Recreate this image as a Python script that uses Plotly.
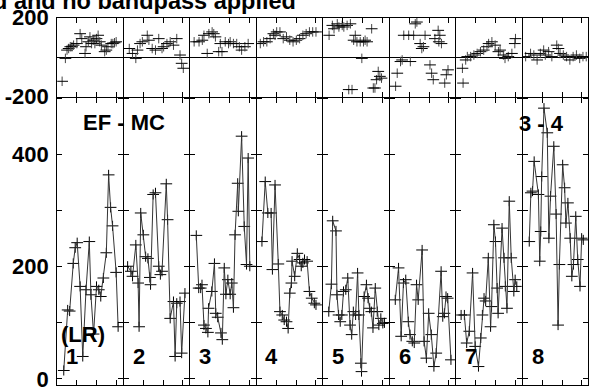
import plotly.graph_objects as go

# ---------------- data (time = fraction of each panel's time span) ----------------
channels = ["1", "2", "3", "4", "5", "6", "7", "8"]

amp_t_1 = [0.10, 0.16, 0.19, 0.245, 0.275, 0.305, 0.35, 0.39, 0.44, 0.49, 0.515, 0.555, 0.60, 0.635, 0.665, 0.705, 0.75, 0.785, 0.815, 0.845, 0.90, 0.93]
amp_1 = [15, 123, 121, 206, 234, 243, 165, 40, 159, 245, 150, 80, 165, 159, 147, 180, 225, 364, 306, 273, 190, 93]

amp_t_2 = [0.06, 0.11, 0.135, 0.185, 0.22, 0.235, 0.26, 0.30, 0.335, 0.37, 0.40, 0.41, 0.45, 0.485, 0.535, 0.56, 0.585, 0.65, 0.67, 0.71, 0.76, 0.785, 0.81, 0.86, 0.885, 0.935]
amp_2 = [201, 192, 183, 239, 171, 93, 296, 257, 218, 215, 181, 168, 329, 332, 201, 186, 192, 348, 284, 108, 138, 40, 135, 138, 46, 153]

amp_t_3 = [0.093, 0.13, 0.16, 0.18, 0.21, 0.24, 0.27, 0.28, 0.33, 0.37, 0.39, 0.42, 0.47, 0.49, 0.52, 0.545, 0.575, 0.61, 0.635, 0.66, 0.685, 0.725, 0.735, 0.785, 0.825, 0.86, 0.885, 0.91]
amp_3 = [256, 162, 162, 168, 96, 90, 83, 126, 156, 206, 117, 110, 82, 70, 198, 151, 177, 151, 171, 127, 257, 349, 299, 433, 272, 204, 394, 201]

amp_t_4 = [0.08, 0.13, 0.17, 0.22, 0.24, 0.28, 0.33, 0.355, 0.39, 0.42, 0.455, 0.48, 0.505, 0.53, 0.54, 0.58, 0.62, 0.655, 0.68, 0.705, 0.73, 0.77, 0.805, 0.84, 0.88, 0.905]
amp_4 = [245, 352, 296, 296, 195, 346, 205, 120, 114, 105, 102, 90, 153, 171, 210, 183, 224, 213, 201, 207, 213, 210, 156, 144, 135, 132]

amp_t_5 = [0.085, 0.125, 0.145, 0.195, 0.21, 0.235, 0.26, 0.285, 0.31, 0.345, 0.375, 0.41, 0.435, 0.46, 0.495, 0.525, 0.545, 0.575, 0.585, 0.625, 0.66, 0.685, 0.71, 0.735, 0.76, 0.795, 0.825, 0.85, 0.88, 0.91, 0.935]
amp_5 = [120, 169, 282, 264, 150, 114, 102, 114, 156, 159, 180, 96, 79, 120, 114, 189, 114, 28, 13, 147, 168, 144, 126, 120, 91, 162, 120, 96, 108, 99, 100]

amp_t_6 = [0.085, 0.135, 0.175, 0.21, 0.245, 0.285, 0.31, 0.345, 0.375, 0.41, 0.435, 0.495, 0.525, 0.56, 0.595, 0.635, 0.675, 0.71, 0.785, 0.81, 0.835, 0.86, 0.885, 0.935]
amp_6 = [141, 198, 76, 171, 177, 102, 79, 67, 64, 168, 141, 230, 67, 37, 117, 79, 22, 46, 192, 111, 117, 147, 144, 34]

amp_t_7 = [0.075, 0.125, 0.16, 0.20, 0.25, 0.29, 0.34, 0.375, 0.40, 0.425, 0.45, 0.49, 0.525, 0.54, 0.575, 0.60, 0.625, 0.64, 0.70, 0.73, 0.75, 0.775, 0.81, 0.84, 0.88, 0.90, 0.925]
amp_7 = [114, 114, 64, 85, 189, 58, 22, 73, 114, 144, 139, 216, 93, 129, 275, 245, 162, 117, 269, 216, 165, 126, 317, 216, 156, 177, 165]

amp_t_8 = [0.10, 0.125, 0.15, 0.175, 0.24, 0.26, 0.275, 0.29, 0.325, 0.375, 0.40, 0.425, 0.475, 0.51, 0.54, 0.56, 0.61, 0.64, 0.66, 0.69, 0.725, 0.75, 0.775, 0.81, 0.84, 0.875, 0.90, 0.925]
amp_8 = [245, 332, 335, 388, 329, 210, 263, 361, 483, 439, 251, 326, 415, 294, 96, 204, 382, 341, 278, 314, 251, 183, 204, 290, 213, 165, 251, 248]

ph_t_1 = [0.075, 0.125, 0.15, 0.175, 0.20, 0.225, 0.25, 0.30, 0.35, 0.375, 0.425, 0.44, 0.475, 0.50, 0.525, 0.55, 0.575, 0.60, 0.625, 0.65, 0.675, 0.725, 0.75, 0.775, 0.825, 0.85, 0.875, 0.90]
ph_1 = [-123, -7, 35, 43, 52, 52, 60, 68, 118, 93, 18, 52, 77, 102, 68, 85, 68, 93, 110, 77, 60, 27, 35, 52, 68, 68, 72, 77]

ph_t_2 = [0.085, 0.135, 0.185, 0.21, 0.25, 0.285, 0.36, 0.385, 0.435, 0.485, 0.535, 0.585, 0.61, 0.66, 0.71, 0.76, 0.81, 0.86, 0.885, 0.91]
ph_2 = [43, 18, -7, 35, 68, 77, 110, 85, 43, 35, 93, 43, 52, 68, 77, 60, 93, 10, -32, -57]

ph_t_3 = [0.06, 0.135, 0.185, 0.21, 0.26, 0.285, 0.335, 0.36, 0.385, 0.435, 0.46, 0.485, 0.535, 0.585, 0.61, 0.66, 0.71, 0.75, 0.785, 0.835, 0.885]
ph_3 = [77, 77, 85, 110, 18, 118, 127, 118, 102, 27, 68, 27, 77, 68, 77, 68, 68, 52, 35, 52, 68]

ph_t_4 = [0.055, 0.105, 0.155, 0.205, 0.255, 0.28, 0.305, 0.355, 0.405, 0.455, 0.505, 0.555, 0.605, 0.655, 0.705, 0.755, 0.805, 0.855, 0.905]
ph_4 = [68, 77, 77, 93, 118, 110, 127, 127, 93, 102, 85, 77, 85, 93, 110, 118, 127, 127, 127]

ph_t_5 = [0.09, 0.14, 0.165, 0.215, 0.24, 0.29, 0.315, 0.365, 0.39, 0.415, 0.44, 0.465, 0.49, 0.515, 0.565, 0.59, 0.615, 0.64, 0.67, 0.74, 0.765, 0.79, 0.815, 0.84, 0.865, 0.89]
ph_5 = [110, 160, 143, 168, 152, 160, 152, 160, -165, 168, -165, 85, 110, 77, 77, -7, 77, 85, 77, 143, -157, -157, -115, -73, -98, -107]

ph_t_6 = [0.09, 0.115, 0.165, 0.19, 0.215, 0.29, 0.315, 0.365, 0.39, 0.415, 0.465, 0.49, 0.515, 0.54, 0.615, 0.64, 0.665, 0.69, 0.74, 0.75, 0.765, 0.79, 0.84, 0.865, 0.89]
ph_6 = [-148, -82, -23, -15, 110, 110, -23, 110, 168, 177, 68, 43, 52, 110, -40, -82, -115, 93, 135, 77, 110, 68, -132, -90, -65]

ph_t_7 = [0.095, 0.105, 0.145, 0.17, 0.22, 0.27, 0.32, 0.37, 0.42, 0.47, 0.495, 0.545, 0.595, 0.645, 0.67, 0.72, 0.745, 0.795, 0.85, 0.895, 0.905]
ph_7 = [-57, -132, -15, 2, 2, 10, 18, 27, 35, 52, 68, 77, 60, 27, 35, 10, -7, 2, 18, 68, 93]

ph_t_8 = [0.045, 0.12, 0.17, 0.22, 0.27, 0.32, 0.345, 0.395, 0.445, 0.52, 0.545, 0.57, 0.62, 0.67, 0.72, 0.77, 0.82, 0.87, 0.92, 0.97]
ph_8 = [2, 18, 10, -15, 18, 35, 10, 27, 2, 60, 43, 18, 10, 2, -15, 2, 10, -7, 2, 2]

amp_times = [amp_t_1, amp_t_2, amp_t_3, amp_t_4, amp_t_5, amp_t_6, amp_t_7, amp_t_8]
amp_values = [amp_1, amp_2, amp_3, amp_4, amp_5, amp_6, amp_7, amp_8]
ph_times = [ph_t_1, ph_t_2, ph_t_3, ph_t_4, ph_t_5, ph_t_6, ph_t_7, ph_t_8]
ph_values = [ph_1, ph_2, ph_3, ph_4, ph_5, ph_6, ph_7, ph_8]

amp_ticks = [0, 100, 200, 300, 400, 500]
amp_ticktext = ["0", "", "200", "", "400", ""]
ph_ticks = [-200, 200]
ph_ticktext = ["-200", "200"]
time_ticks = [0.3, 0.6, 0.9]

title_text = "d and no bandpass applied"
baseline_text = "EF - MC"
stokes_text = "(LR)"
source_text = "3 - 4"

# ---------------- layout geometry (pixels) ----------------
W, H = 595, 389
X0, COLW = 56.7, 66.5          # left frame line, panel width
Y_TOP, Y_MID, Y_BOT = 17.0, 97.0, 385.0   # frame lines

FONT = "Liberation Sans, Arial, Helvetica, sans-serif"
tfont = dict(family=FONT, size=22, color="black", weight="bold")

n = len(channels)
fig = go.Figure()
layout = {}


def fx(px):
    return px / W


def fy(py):
    return (H - py) / H


for i in range(n):
    left = X0 + i * COLW
    xdom = [fx(left + 0.5), fx(left + COLW - 0.5)]
    for row in (0, 1):
        k = 1 + i + row * n
        xname, yname = f"xaxis{k}", f"yaxis{k}"
        xr, yr = f"x{k}", f"y{k}"
        if row == 0:
            ydom = [fy(Y_MID - 0.5), fy(Y_TOP + 0.5)]
            fig.add_trace(go.Scatter(
                x=ph_times[i], y=ph_values[i], mode="markers", xaxis=xr, yaxis=yr,
                marker=dict(size=1, color="rgba(0,0,0,0)"),
                error_x=dict(type="constant", value=0.09, color="black", thickness=1, width=0),
                error_y=dict(type="constant", value=24, color="#444", thickness=1, width=0),
                hoverinfo="skip", showlegend=False))
            yax = dict(range=[-200, 200], tickvals=ph_ticks, ticktext=ph_ticktext,
                       zeroline=True, zerolinecolor="black", zerolinewidth=1)
        else:
            ydom = [fy(Y_BOT - 0.5), fy(Y_MID + 0.5)]
            fig.add_trace(go.Scatter(
                x=amp_times[i], y=amp_values[i], mode="lines", xaxis=xr, yaxis=yr,
                line=dict(color="#333", width=1),
                error_x=dict(type="constant", value=0.09, color="black", thickness=1, width=0),
                error_y=dict(type="constant", value=9, color="black", thickness=1, width=0),
                hoverinfo="skip", showlegend=False))
            yax = dict(range=[-10, 502], tickvals=amp_ticks, ticktext=amp_ticktext,
                       zeroline=False)
        layout[xname] = dict(domain=xdom, anchor=yr, range=[0, 1], tickvals=time_ticks,
                             ticks="inside", ticklen=5, tickcolor="black",
                             showticklabels=False, showline=True, linecolor="black",
                             linewidth=1, mirror="ticks", showgrid=False, zeroline=False,
                             automargin=False, fixedrange=True)
        yax.update(domain=ydom, anchor=xr, ticks="inside", ticklen=5, tickcolor="black",
                   showticklabels=(i == 0), showline=True, linecolor="black",
                   linewidth=1, mirror="ticks", showgrid=False, tickfont=tfont,
                   ticklabelstandoff=3, ticklabeloverflow="allow",
                   automargin=False, fixedrange=True)
        layout[yname] = yax

annos = []
for i, ch in enumerate(channels):
    annos.append(dict(text=ch, x=fx(X0 + i * COLW + 15.5), y=fy(356), xref="paper",
                      yref="paper", xanchor="center", yanchor="middle",
                      showarrow=False, font=tfont))
annos.append(dict(text=baseline_text, x=fx(124.3), y=fy(122.5), xref="paper", yref="paper",
                  xanchor="center", yanchor="middle", showarrow=False, font=tfont))
annos.append(dict(text=source_text, x=fx(541.7), y=fy(123), xref="paper", yref="paper",
                  xanchor="center", yanchor="middle", showarrow=False, font=tfont))
annos.append(dict(text=stokes_text, x=fx(82.7), y=fy(334), xref="paper", yref="paper",
                  xanchor="center", yanchor="middle", showarrow=False, font=tfont))
annos.append(dict(text=title_text, x=fx(298), y=fy(1.0), xref="paper", yref="paper",
                  xanchor="right", yanchor="middle", showarrow=False,
                  font=dict(family=FONT, size=23.5, color="black", weight="bold")))

fig.update_layout(width=W, height=H,
                  margin=dict(l=0, r=0, t=0, b=0, pad=0, autoexpand=False),
                  paper_bgcolor="white", plot_bgcolor="white",
                  showlegend=False, annotations=annos, **layout)

fig.write_html("out.html", config={"displayModeBar": False},
               post_script="document.body.style.margin='0px';"
                           "document.body.style.overflow='hidden';")
